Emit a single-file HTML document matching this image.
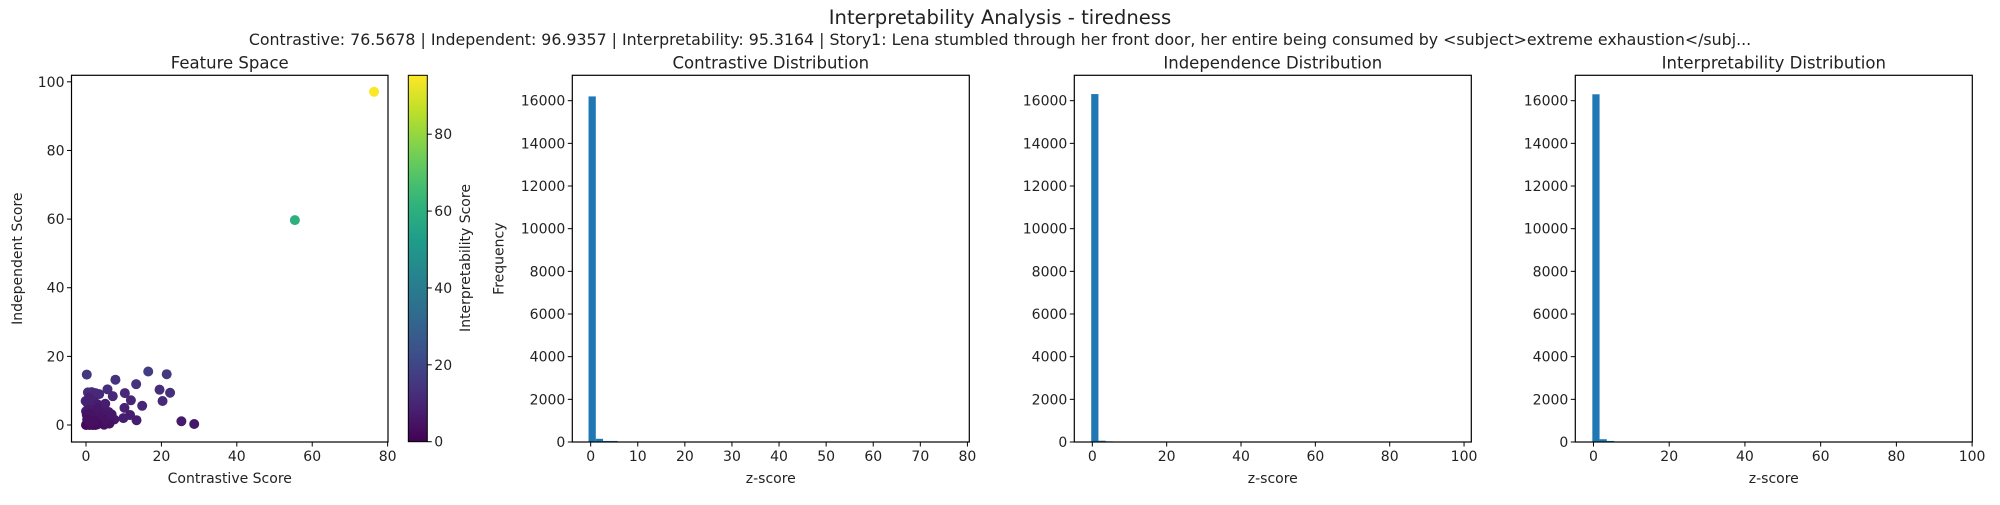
<!DOCTYPE html>
<html><head><meta charset="utf-8"><style>
body{margin:0;background:#fff;width:2000px;height:500px;overflow:hidden;font-family:"Liberation Sans","DejaVu Sans",sans-serif}
svg text{font-family:"DejaVu Sans","Liberation Sans",sans-serif;fill:#222}
</style></head><body>
<svg id="fig" width="2000" height="500" xmlns="http://www.w3.org/2000/svg">
<text x="1000" y="24" text-anchor="middle" font-size="19.6">Interpretability Analysis - tiredness</text>
<text x="1000" y="45" text-anchor="middle" font-size="15.8">Contrastive: 76.5678 | Independent: 96.9357 | Interpretability: 95.3164 | Story1: Lena stumbled through her front door, her entire being consumed by &lt;subject&gt;extreme exhaustion&lt;/subj...</text>
</svg>
<script>
// scatter data: contrastive, independent, interpretability
const scX=[0.2,7.8,13.3,16.5,21.4,19.5,22.3,20.3,14.9,10.3,11.9,10.2,11.7,13.4,9.9,25.3,28.7,55.4,76.4,5.7,7.1,0.5,1.5,2.5,3.5,-0.1,0.3,1.2,2.2,3.1,4.0,5.0,6.0,0.0,1.0,2.0,3.0,4.2,5.5,6.5,7.5,0.4,1.4,2.6,3.6,4.6,5.8,0.1,0.9,1.8,2.8,3.8,4.8,6.2,0.6,1.6,2.4,3.4,4.4,5.2,0.2,1.1,2.1,3.3,0.8,6.8,5.1,0.0,0.5,1.0,1.5,2.0,2.5,3.0,0.3,1.3,2.3];
const scY=[14.7,13.2,11.9,15.6,14.8,10.3,9.4,7.0,5.6,9.3,7.2,5.0,2.9,1.4,2.0,1.1,0.3,59.7,97.1,10.4,8.4,9.5,9.6,9.3,9.0,7.0,6.5,7.2,6.8,6.0,5.5,4.6,3.8,4.0,4.5,4.2,3.6,3.0,2.7,2.2,1.6,2.0,2.4,1.8,1.2,1.0,0.8,0.2,0.5,0.0,0.3,0.6,0.1,0.4,1.0,1.4,0.9,2.3,1.9,1.5,3.0,3.2,2.8,4.9,8.0,3.1,6.2,0.0,0.1,0.0,0.2,0.1,0.0,0.2,1.6,0.8,1.2];
const scC=[15,14,14,17,16,12,13,11,10,11,10,9,8,8,8,7,6,60,95,12,11,12,12,11,11,10,9,9,9,8,8,8,7,7,7,7,6,6,6,6,6,5,5,5,5,5,5,4,4,4,4,4,4,4,4,4,4,5,5,5,5,5,5,6,9,6,8,2,2,2,3,3,3,3,4,4,4];
// histogram counts (50 bins each)
const h1=[16200,150,50,50,10,6,4,3,2,2,2,1,1,1,1,1,1,0,1,0,1,0,0,1,0,0,0,0,0,1,0,0,0,0,0,0,1,0,0,0,0,0,0,0,0,0,0,0,0,1];
const h2=[16310,60,30,10,6,4,3,2,2,1,1,1,1,0,1,0,0,1,0,0,0,0,0,0,0,0,0,0,0,0,1,0,0,0,0,0,0,0,0,0,0,0,0,0,0,0,0,0,0,1];
const h3=[16300,130,50,12,6,4,3,2,2,1,1,1,1,0,1,0,0,1,0,0,0,0,0,0,0,0,0,0,0,0,1,0,0,0,0,0,0,0,0,0,0,0,0,0,0,0,0,0,0,1];
const h1Range=[-0.45,76.57], h2Range=[-0.3,96.94], h3Range=[-0.3,95.32];
const scXTicks=[0,20,40,60,80], scYTicks=[0,20,40,60,80,100], cbTicks=[0,20,40,60,80];
const yTicksH=[0,2000,4000,6000,8000,10000,12000,14000,16000];
const h1XTicks=[0,10,20,30,40,50,60,70,80], h2XTicks=[0,20,40,60,80,100];

const svg=document.getElementById('fig');
const NS='http://www.w3.org/2000/svg';
function mk(tag,attrs,parent){const e=document.createElementNS(NS,tag);for(const k in attrs)e.setAttribute(k,attrs[k]);(parent||svg).appendChild(e);return e;}
function txt(s,x,y,attrs,parent){const e=mk('text',Object.assign({x:x,y:y,'font-size':14},attrs),parent);e.textContent=s;return e;}
const VIR=[[68,1,84],[72,40,120],[62,74,137],[49,104,142],[38,130,142],[31,158,137],[53,183,121],[110,206,88],[181,222,43],[253,231,37]];
function viridis(t){t=Math.max(0,Math.min(1,t));const f=t*(VIR.length-1);const i=Math.min(VIR.length-2,Math.floor(f));const r=f-i;const a=VIR[i],b=VIR[i+1];return 'rgb('+a.map((v,k)=>Math.round(v+(b[k]-v)*r)).join(',')+')';}

function axes(name,L,R,T,B,xmin,xmax,ymin,ymax){
  const g=mk('g',{});
  
  
  const sx=v=>L+(v-xmin)/(xmax-xmin)*(R-L);
  const sy=v=>B-(v-ymin)/(ymax-ymin)*(B-T);
  return {g,sx,sy,L,R,T,B};
}
function frame(a,xt,yt,xlabel,ylabel,title,ylx){
  const {g,sx,sy,L,R,T,B}=a;
  mk('rect',{x:L,y:T,width:R-L,height:B-T,fill:'none',stroke:'#000','stroke-width':1.2},g);
  xt.forEach(v=>{const x=sx(v);mk('line',{x1:x,x2:x,y1:B,y2:B+4.5,stroke:'#000'},g);const t=txt(String(v),x,B+19,{'text-anchor':'middle'},g);});
  yt.forEach(v=>{const y=sy(v);mk('line',{x1:L-4.5,x2:L,y1:y,y2:y,stroke:'#000'},g);const t=txt(String(v),L-7,y+5,{'text-anchor':'end'},g);});
  const xl=txt(xlabel,(L+R)/2,B+41,{'text-anchor':'middle'},g);
  
  if(ylabel){const yl=txt(ylabel,ylx,(T+B)/2,{'text-anchor':'middle',transform:'rotate(-90 '+ylx+' '+(T+B)/2+')'},g);}
  const ti=txt(title,(L+R)/2,T-7,{'text-anchor':'middle','font-size':16.5},g);
  
}
// scatter
const sa=axes('feature-space-scatter',71.5,388,75.3,442,-3.85,80.1,-4.95,101.9);
const cmax=95.32;
scX.forEach((v,i)=>{const c=mk('circle',{cx:sa.sx(v),cy:sa.sy(scY[i]),r:5,fill:viridis(scC[i]/cmax)},sa.g);
  });
frame(sa,scXTicks,scYTicks,'Contrastive Score','Independent Score','Feature Space',22);
// colorbar
const cb=mk('g',{});


const defs=mk('defs',{},svg);const lg=mk('linearGradient',{id:'vg',x1:0,y1:1,x2:0,y2:0},defs);
for(let i=0;i<=20;i++)mk('stop',{offset:(i/20),'stop-color':viridis(i/20)},lg);
const cbT=75.3,cbB=441.7,cbL=408.3,cbR=427.3;
mk('rect',{x:cbL,y:cbT,width:cbR-cbL,height:cbB-cbT,fill:'url(#vg)',stroke:'#000','stroke-width':1},cb);
cbTicks.forEach(v=>{const y=cbB-v/cmax*(cbB-cbT);mk('line',{x1:cbR,x2:cbR+4.5,y1:y,y2:y,stroke:'#000'},cb);const t=txt(String(v),cbR+7,y+5,{},cb);});
const cbl=txt('Interpretability Score',470,258,{'text-anchor':'middle',transform:'rotate(-90 470 258)'},cb);


function hist(name,counts,range,L,R,xmin,xmax,xt,title,ylabel){
  const a=axes(name,L,R,75.3,442,xmin,xmax,0,17190);
  const w=(range[1]-range[0])/counts.length;
  counts.forEach((c,i)=>{if(c<=0)return;const x0=a.sx(range[0]+i*w),x1=a.sx(range[0]+(i+1)*w);
    const r=mk('rect',{x:x0,y:a.sy(c),width:x1-x0,height:a.sy(0)-a.sy(c),fill:'#1f77b4'},a.g);
    });
  frame(a,xt,yTicksH,'z-score',ylabel,title,L-69);
}
hist('contrastive-histogram',h1,h1Range,572.3,969.3,-3.9,80.4,h1XTicks,'Contrastive Distribution','Frequency');
hist('independence-histogram',h2,h2Range,1074.3,1471.3,-4.85,101.95,h2XTicks,'Independence Distribution',null);
hist('interpretability-histogram',h3,h3Range,1575.3,1972.3,-4.8,100.05,h2XTicks,'Interpretability Distribution',null);
</script>
</body></html>
